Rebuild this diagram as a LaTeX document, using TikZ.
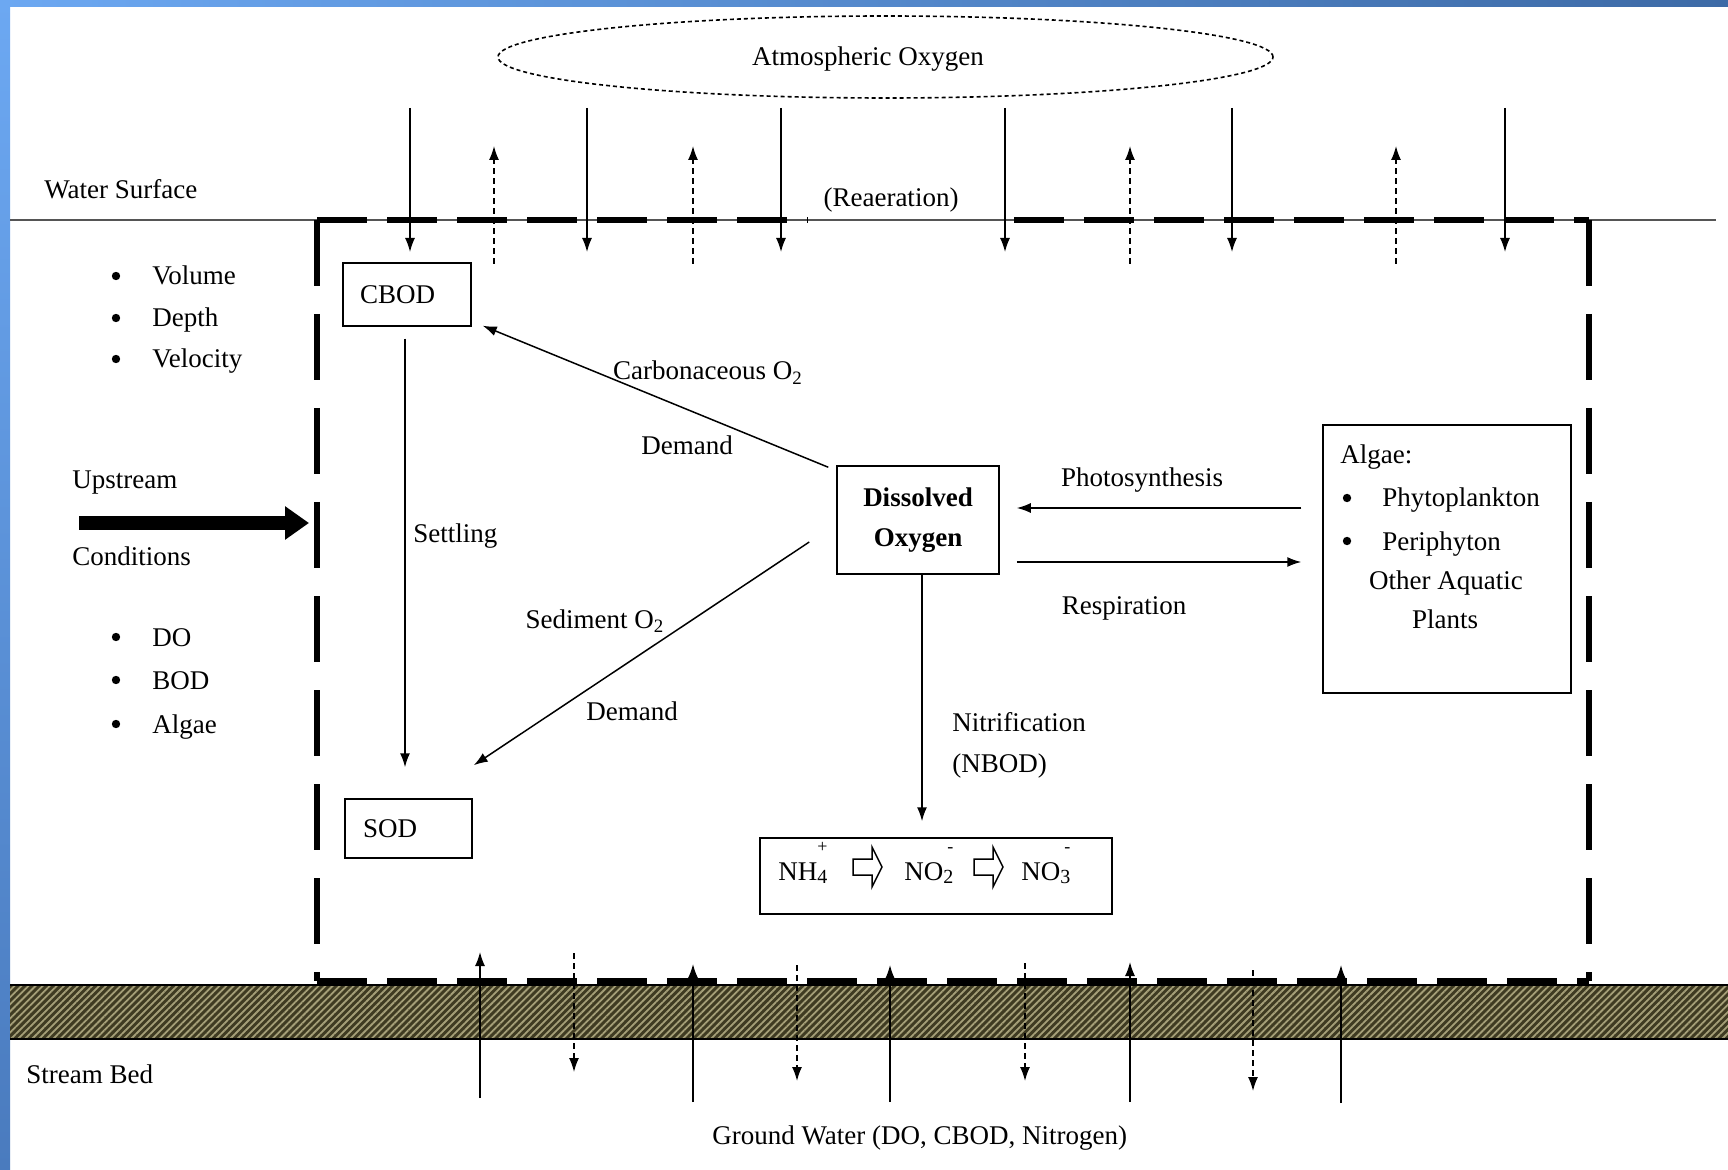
\documentclass[tikz,border=0pt]{standalone}
\usepackage{fontspec}
\setmainfont{Liberation Serif}
\usetikzlibrary{arrows.meta,shapes.geometric,patterns.meta,calc}
\definecolor{blueL}{HTML}{6CA8F2}
\definecolor{blueD}{HTML}{3D6AA6}
\definecolor{blueM}{HTML}{4A7BBE}
\definecolor{olv}{HTML}{3F3B22}
\definecolor{olvL}{HTML}{A59F78}
\definecolor{surf}{HTML}{555555}
\newcommand\ionx[2]{\raisebox{-1.5pt}{\fontsize{10}{10}\selectfont #1}\llap{\raisebox{14pt}{\fontsize{9}{9}\selectfont #2}}}
\tikzset{barrow/.pic={\draw[line width=0.75pt, line join=miter] (0,-8) -- (19,-8) -- (19,-20) -- (29,0) -- (19,20) -- (19,8) -- (0,8) -- cycle;}}
\begin{document}
\begin{tikzpicture}[x=0.5pt,y=-0.5pt,
  txt/.style={font=\fontsize{13.5}{16}\selectfont, inner sep=0pt, text=black},
  bul/.style={circle, fill=black, inner sep=0pt, minimum size=4.2pt},
  box/.style={draw, line width=0.75pt, inner ysep=0pt, font=\fontsize{13.5}{16}\selectfont},
  arr/.style={line width=0.75pt, -{Latex[length=7pt,width=5pt]}},
  darr/.style={arr, dash pattern=on 3pt off 2pt},
  bdash/.style={line width=3pt, dash pattern=on 25pt off 10pt},
  vdash/.style={line width=3.2pt, dash pattern=on 33pt off 14pt},
]
\useasboundingbox (0,0) rectangle (1728,1170);
\fill[white] (0,0) rectangle (1728,1170);
\shade[left color=blueL, right color=blueD] (0,0) rectangle (1728,7);
\shade[top color=blueL, bottom color=blueM] (0,0) rectangle (10,1170);

% water surface
\draw[surf, line width=1pt] (10,220) -- (1716,220);

% stream bed band
\fill[olv] (10,985) rectangle (1728,1039);
\fill[pattern={Lines[angle=45,distance=2.5pt,line width=0.9pt]}, pattern color=olvL] (10,985) rectangle (1728,1039);
\draw[line width=0.6pt] (10,985) -- (1728,985) (10,1039) -- (1728,1039);

% control volume (dashed box)
\draw[bdash] (317,220) -- (808,220);
\draw[bdash] (1014,220) -- (1589,220);
\draw[vdash] (317,220) -- (317,981);
\draw[vdash] (1589,220) -- (1589,981);
\draw[bdash] (317,981) -- (1589,981);

% atmospheric oxygen
\node[ellipse, draw, line width=0.8pt, dash pattern=on 2pt off 1.5pt, minimum width=387.5pt, minimum height=41pt, inner sep=0pt] (atm) at (885.5,57) {};
\node[txt, anchor=base] (atmt) at (868,66) {Atmospheric Oxygen};

% reaeration arrows
\foreach \x in {410,587,781,1005,1232,1505} \draw[arr] (\x,108) -- (\x,252);
\foreach \x in {494,693,1130,1396} \draw[darr] (\x,264) -- (\x,146);

\node[txt, anchor=base west] (ws) at (44,199) {Water Surface};
\node[txt, anchor=base] (rea) at (891,207) {(Reaeration)};

% left texts
\foreach \t/\y [count=\i] in {Volume/285, Depth/327, Velocity/368, DO/646, BOD/689, Algae/733} {
  \node[bul] (b\i) at (116,\y-9) {};
  \node[txt, anchor=base west] (l\i) at (152,\y) {\t};
}
\node[txt, anchor=base west] (ups) at (72,488) {Upstream};
\node[txt, anchor=base west] (cond) at (72,565) {Conditions};
\coordinate (upA) at (79,523);
\coordinate (upB) at (309,523);
\draw[line width=7pt, -{Triangle[length=12pt,width=16pt]}] (upA) -- (upB);

% boxes
\node[box, minimum width=64pt, minimum height=31.5pt, text width=47pt, inner xsep=8.5pt, align=left] (cbod) at (407,294.5) {CBOD};
\node[box, minimum width=63.5pt, minimum height=29.5pt, text width=45.5pt, inner xsep=9pt, align=left] (sod) at (408.5,828.5) {SOD};
\node[box, minimum width=81pt, minimum height=54pt, align=center, font=\fontsize{13.5}{20}\selectfont\bfseries] (do) at (918,520) {Dissolved\\Oxygen};
\node[box, minimum width=124pt, minimum height=134pt] (alg) at (1447,559) {};
\node[box, minimum width=176pt, minimum height=38pt] (nbox) at (936,876) {};

% algae texts
\node[txt, anchor=base west] (algt) at (1340,464) {Algae:};
\node[bul] (ab1) at (1347,498) {};
\node[txt, anchor=base west] (phy) at (1382,507) {Phytoplankton};
\node[bul] (ab2) at (1347,541) {};
\node[txt, anchor=base west] (peri) at (1382,550) {Periphyton};
\node[txt, anchor=base] (oth) at (1446,589) {Other Aquatic};
\node[txt, anchor=base] (pla) at (1445,628) {Plants};

% nitrogen chain
\node[txt, anchor=base west] (nh4) at (778,880) {NH\ionx{4}{+}};
\node[txt, anchor=base west] (no2) at (904,880) {NO\ionx{2}{-}};
\node[txt, anchor=base west] (no3) at (1021,880) {NO\ionx{3}{-}};
\pic at (853,867) {barrow};
\pic at (974,867) {barrow};

% process arrows
\draw[arr] ($(do.north west)+(-8,2)$) -- ($(cbod.south east)+(11,-1)$);
\draw[arr] ($(cbod.south)+(-2,12)$) -- ($(sod.north)+(-3.5,-31)$);
\draw[arr] ($(do.west)+(-27,22)$) -- ($(sod.north east)+(1,-33)$);
\draw[arr] ($(alg.west)+(-21,-51)$) -- ($(do.east)+(17,-12)$);
\draw[arr] ($(do.east)+(17,42)$) -- ($(alg.west)+(-21,3)$);
\draw[arr] ($(do.south)+(4,0)$) -- ($(nbox.north)+(-14,-16)$);

% arrow labels
\node[txt, anchor=base] (carb) at (708,380) {Carbonaceous O\textsubscript{2}};
\node[txt, anchor=base] (dem1) at (687,455) {Demand};
\node[txt, anchor=base west] (sett) at (413,542) {Settling};
\node[txt, anchor=base] (sed) at (595,628) {Sediment O\textsubscript{2}};
\node[txt, anchor=base] (dem2) at (632,720) {Demand};
\node[txt, anchor=base] (photo) at (1142,487) {Photosynthesis};
\node[txt, anchor=base] (resp) at (1124,614) {Respiration};
\node[txt, anchor=base west] (nit) at (952,731) {Nitrification};
\node[txt, anchor=base west] (nbod) at (952,772) {(NBOD)};

% stream bed exchange
\draw[arr] (480,1098) -- (480,952);
\draw[arr] (693,1102) -- (693,964);
\draw[arr] (890,1102) -- (890,965);
\draw[arr] (1130,1102) -- (1130,962);
\draw[arr] (1341,1103) -- (1341,965);
\draw[darr] (574,953) -- (574,1072);
\draw[darr] (797,965) -- (797,1081);
\draw[darr] (1025,963) -- (1025,1081);
\draw[darr] (1253,970) -- (1253,1091);

\node[txt, anchor=base west] (sb) at (26,1083) {Stream Bed};
\node[txt, anchor=base west] (gw) at (712,1144) {Ground Water (DO, CBOD, Nitrogen)};
\end{tikzpicture}
\end{document}
